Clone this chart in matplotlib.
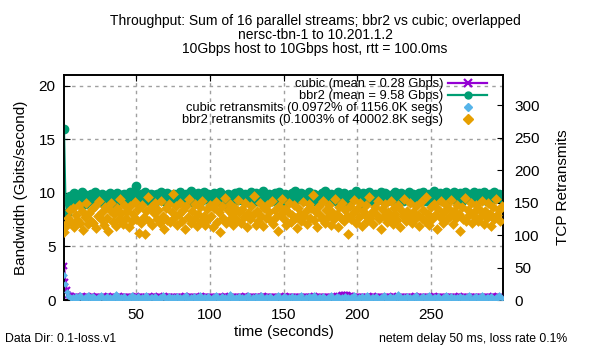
import matplotlib
matplotlib.use("Agg")
import matplotlib.pyplot as plt
from matplotlib.lines import Line2D

plt.rcParams['font.family'] = ['Liberation Sans', 'DejaVu Sans']

# ---------------- data ----------------
time_s = list(range(1, 299))

bbr2_gbps = [
    16.0, 9.3, 8.1, 9.2, 9.7, 8.9, 9.5, 10.0, 9.2, 9.8, 9.3, 9.6, 10.1, 9.4, 9.0, 9.8, 9.6, 9.2, 9.9, 9.5,
    9.6, 10.1, 9.3, 9.8, 9.4, 9.1, 9.9, 9.6, 9.2, 9.8, 9.5, 10.0, 9.6, 9.0, 9.8, 9.4, 10.0, 9.2, 9.7, 9.8,
    9.4, 9.9, 9.6, 9.1, 9.8, 10.1, 9.4, 9.6, 10.0, 10.6, 9.7, 9.2, 9.9, 9.6, 9.4, 10.1, 9.7, 9.2, 9.6, 9.9,
    9.4, 9.8, 9.1, 9.9, 9.6, 9.3, 10.1, 9.7, 9.2, 9.6, 10.0, 9.4, 9.8, 9.5, 9.1, 9.9, 9.7, 9.3, 9.6, 10.1,
    9.6, 9.2, 9.8, 9.9, 9.4, 9.6, 10.2, 9.1, 9.7, 9.5, 9.3, 10.0, 9.6, 9.2, 9.8, 10.1, 9.4, 9.6, 9.9, 9.7,
    9.4, 9.6, 10.0, 9.2, 9.8, 9.5, 10.1, 9.3, 9.7, 9.0, 9.6, 9.9, 9.4, 9.8, 9.5, 9.2, 10.0, 9.6, 9.3, 10.1,
    9.7, 9.3, 9.6, 9.9, 9.2, 9.8, 9.5, 10.1, 9.4, 9.6, 10.0, 9.2, 9.8, 9.3, 9.6, 10.2, 9.7, 9.4, 9.6, 9.9,
    9.5, 9.2, 9.8, 10.0, 9.3, 9.6, 10.1, 9.7, 9.4, 9.6, 9.9, 9.1, 9.8, 9.5, 9.3, 10.0, 9.6, 10.2, 9.4, 9.7,
    9.6, 10.0, 9.3, 9.8, 9.5, 9.2, 10.1, 9.6, 9.8, 9.4, 9.9, 9.6, 9.1, 9.7, 9.4, 10.0, 9.6, 10.2, 9.7, 9.3,
    9.6, 9.9, 9.4, 9.8, 9.2, 9.6, 10.1, 9.4, 9.7, 9.5, 10.0, 9.3, 9.6, 9.0, 9.8, 9.9, 9.4, 9.6, 10.2, 9.7,
    9.4, 9.6, 8.9, 10.0, 9.6, 9.8, 9.3, 10.1, 9.5, 9.2, 9.8, 9.9, 9.4, 9.6, 9.7, 10.1, 9.3, 9.6, 10.0, 9.2,
    9.8, 9.6, 9.3, 9.9, 9.5, 10.1, 9.7, 9.4, 9.6, 10.0, 9.2, 9.8, 9.6, 9.3, 10.1, 9.7, 9.5, 9.9, 9.3, 9.8,
    9.6, 10.0, 9.4, 9.8, 10.1, 9.5, 9.2, 9.8, 9.9, 9.4, 9.6, 10.2, 9.7, 9.3, 9.6, 10.0, 9.6, 9.2, 9.8, 10.1,
    9.6, 9.4, 9.9, 9.7, 9.5, 10.1, 9.3, 9.8, 9.6, 10.0, 9.2, 9.7, 10.1, 9.5, 9.4, 9.9, 9.7, 9.5, 10.1, 9.3,
    9.8, 9.6, 10.0, 9.4, 9.7, 10.1, 9.5, 9.2, 9.8, 9.9, 9.6, 9.4, 10.1, 9.7, 9.5, 9.9, 9.4, 9.8,
]

cubic_gbps = [
    3.20, 1.70, 0.90, 0.50, 0.40, 0.35, 0.30, 0.28, 0.32, 0.25, 0.30, 0.27, 0.33, 0.26, 0.29, 0.31, 0.24, 0.30, 0.28, 0.34,
    0.26, 0.29, 0.31, 0.25, 0.30, 0.27, 0.32, 0.24, 0.29, 0.28, 0.33, 0.26, 0.30, 0.25, 0.31, 0.27, 0.29, 0.34, 0.26, 0.28,
    0.30, 0.25, 0.32, 0.27, 0.29, 0.24, 0.31, 0.28, 0.26, 0.33, 0.29, 0.25, 0.30, 0.27, 0.32, 0.26, 0.28, 0.31, 0.24, 0.29,
    0.27, 0.33, 0.26, 0.30, 0.25, 0.29, 0.31, 0.27, 0.34, 0.26, 0.28, 0.30, 0.25, 0.32, 0.27, 0.29, 0.24, 0.31, 0.28, 0.26,
    0.30, 0.27, 0.33, 0.25, 0.29, 0.31, 0.26, 0.28, 0.32, 0.24, 0.30, 0.27, 0.29, 0.33, 0.26, 0.28, 0.31, 0.25, 0.30, 0.27,
    0.29, 0.32, 0.26, 0.28, 0.24, 0.31, 0.27, 0.30, 0.25, 0.33, 0.28, 0.26, 0.30, 0.27, 0.32, 0.25, 0.29, 0.31, 0.26, 0.28,
    0.31, 0.26, 0.29, 0.33, 0.27, 0.30, 0.24, 0.28, 0.32, 0.26, 0.29, 0.31, 0.25, 0.30, 0.27, 0.34, 0.26, 0.28, 0.30, 0.25,
    0.28, 0.32, 0.26, 0.30, 0.27, 0.29, 0.25, 0.31, 0.28, 0.26, 0.33, 0.27, 0.30, 0.24, 0.29, 0.31, 0.26, 0.28, 0.32, 0.27,
    0.30, 0.25, 0.29, 0.32, 0.26, 0.28, 0.31, 0.27, 0.30, 0.25, 0.33, 0.28, 0.26, 0.30, 0.27, 0.29, 0.24, 0.31, 0.28, 0.26,
    0.29, 0.31, 0.27, 0.30, 0.26, 0.33, 0.28, 0.36, 0.40, 0.44, 0.48, 0.46, 0.50, 0.42, 0.38, 0.33, 0.29, 0.31, 0.27, 0.30,
    0.26, 0.28, 0.32, 0.25, 0.29, 0.31, 0.27, 0.30, 0.26, 0.28, 0.33, 0.25, 0.29, 0.31, 0.27, 0.30, 0.24, 0.28, 0.32, 0.26,
    0.30, 0.27, 0.29, 0.33, 0.25, 0.28, 0.31, 0.26, 0.30, 0.27, 0.32, 0.25, 0.29, 0.28, 0.31, 0.26, 0.30, 0.27, 0.33, 0.25,
    0.28, 0.31, 0.26, 0.30, 0.27, 0.29, 0.32, 0.25, 0.28, 0.30, 0.26, 0.33, 0.27, 0.29, 0.24, 0.31, 0.28, 0.26, 0.30, 0.27,
    0.32, 0.26, 0.29, 0.31, 0.25, 0.28, 0.30, 0.27, 0.33, 0.26, 0.29, 0.31, 0.25, 0.30, 0.27, 0.28, 0.32, 0.26, 0.29, 0.31,
    0.27, 0.30, 0.25, 0.28, 0.32, 0.26, 0.29, 0.31, 0.27, 0.30, 0.25, 0.33, 0.28, 0.26, 0.30, 0.27, 0.29, 0.31,
]

cubic_retrans = [
    38, 25, 12, 6, 4, 3, 5, 2, 6, 1, 4, 7, 3, 0, 5, 2, 8, 3, 4, 1,
    6, 3, 0, 5, 2, 7, 4, 1, 3, 6, 2, 5, 0, 4, 3, 9, 2, 5, 1, 4,
    3, 6, 2, 0, 5, 3, 7, 1, 4, 2, 6, 3, 0, 5, 4, 2, 8, 3, 1, 5,
    4, 2, 6, 3, 0, 5, 2, 7, 4, 1, 3, 6, 2, 5, 0, 4, 3, 6, 2, 5,
    1, 4, 3, 7, 2, 0, 5, 3, 6, 1, 4, 2, 8, 3, 0, 5, 4, 2, 6, 3,
    1, 5, 2, 7, 4, 0, 3, 6, 2, 5, 1, 4, 3, 9, 2, 5, 0, 4, 3, 6,
    2, 5, 1, 4, 3, 7, 2, 0, 5, 3, 6, 1, 4, 2, 8, 3, 0, 5, 4, 2,
    6, 3, 1, 5, 2, 7, 4, 0, 3, 6, 2, 5, 1, 4, 3, 6, 2, 5, 0, 4,
    3, 7, 2, 0, 5, 3, 6, 1, 4, 2, 8, 3, 0, 5, 4, 2, 6, 3, 1, 5,
    2, 7, 4, 0, 3, 6, 2, 5, 1, 4, 3, 6, 2, 5, 0, 4, 3, 7, 2, 0,
    5, 3, 6, 1, 4, 2, 8, 3, 0, 5, 4, 2, 6, 3, 1, 5, 2, 7, 4, 0,
    3, 6, 2, 5, 1, 4, 3, 9, 2, 5, 0, 4, 3, 6, 2, 5, 1, 4, 3, 7,
    2, 0, 5, 3, 6, 1, 4, 2, 8, 3, 0, 5, 4, 2, 6, 3, 1, 5, 2, 7,
    4, 0, 3, 6, 2, 5, 1, 4, 3, 6, 2, 5, 0, 4, 3, 7, 2, 0, 5, 3,
    6, 1, 4, 2, 8, 3, 0, 5, 4, 2, 6, 3, 1, 5, 2, 7, 4, 3,
]

bbr2_retrans = [
    104, 112, 118, 126, 138, 120, 142, 113, 131, 123, 146, 119, 137, 108, 128, 149, 117, 134, 122, 140,
    118, 145, 111, 130, 152, 124, 136, 115, 143, 126, 107, 138, 149, 120, 132, 114, 141, 125, 156, 134,
    117, 147, 127, 137, 112, 144, 121, 133, 151, 124, 140, 103, 119, 146, 128, 101, 137, 158, 122, 143,
    115, 134, 149, 125, 139, 118, 153, 130, 110, 141, 123, 148, 120, 136, 163, 127, 144, 116, 132, 150,
    122, 139, 109, 145, 128, 155, 119, 137, 125, 148, 114, 133, 143, 121, 152, 130, 116, 140, 124, 147,
    129, 112, 141, 151, 120, 135, 104, 144, 127, 157, 118, 138, 123, 148, 132, 115, 142, 125, 154, 136,
    119, 140, 128, 149, 113, 134, 124, 145, 131, 160, 116, 137, 122, 150, 129, 114, 141, 127, 147, 135,
    123, 152, 117, 138, 128, 107, 144, 132, 155, 124, 140, 115, 136, 149, 120, 131, 146, 126, 111, 141,
    133, 121, 151, 129, 137, 117, 148, 127, 141, 161, 123, 135, 113, 145, 131, 125, 153, 118, 139, 128,
    147, 116, 136, 124, 156, 132, 112, 143, 127, 150, 121, 138, 130, 102, 144, 125, 134, 154, 119, 140,
    128, 149, 114, 137, 131, 146, 122, 158, 127, 135, 117, 143, 132, 152, 124, 109, 140, 130, 148, 120,
    136, 127, 153, 117, 142, 132, 123, 147, 113, 139, 129, 156, 121, 137, 128, 150, 118, 135, 125, 145,
    131, 114, 151, 127, 138, 122, 159, 133, 116, 143, 125, 148, 131, 110, 140, 128, 153, 119, 136, 146,
    124, 142, 129, 154, 117, 137, 127, 147, 133, 106, 143, 125, 157, 121, 139, 131, 150, 118, 135, 128,
    146, 122, 140, 129, 152, 117, 137, 127, 149, 133, 114, 143, 124, 155, 131, 139, 121, 145,
]

legend_labels = [
    "cubic (mean = 0.28 Gbps)",
    "bbr2 (mean = 9.58 Gbps)",
    "cubic retransmits (0.0972% of 1156.0K segs)",
    "bbr2 retransmits (0.1003% of 40002.8K segs)",
]
title_lines = [
    "Throughput: Sum of 16 parallel streams; bbr2 vs cubic; overlapped",
    "nersc-tbn-1 to 10.201.1.2",
    "10Gbps host to 10Gbps host, rtt = 100.0ms",
]
x_ticks = [50, 100, 150, 200, 250]
y_ticks = [0, 5, 10, 15, 20]
y2_ticks = [0, 50, 100, 150, 200, 250, 300]

# ---------------- styling ----------------
C_CUBIC = "#9400d3"
C_BBR2 = "#009e73"
C_CRET = "#56b4e9"
C_BRET = "#e69f00"

W, H = 600, 350
fig = plt.figure(figsize=(W / 100, H / 100), dpi=100)
L, R, T, B = 64, 503, 75, 300
ax = fig.add_axes([L / W, 1 - B / H, (R - L) / W, (B - T) / H])
ax2 = ax.twinx()

ax.plot(time_s, cubic_gbps, color=C_CUBIC, lw=1.5, marker="x", ms=5, mew=1.5, zorder=3)
ax.plot(time_s, bbr2_gbps, color=C_BBR2, lw=1.5, marker="o", ms=6, zorder=4)
ax2.scatter(time_s, cubic_retrans, color=C_CRET, marker="D", s=12, linewidths=0, zorder=3)
ax2.scatter(time_s, bbr2_retrans, color=C_BRET, marker="D", s=30, linewidths=0, zorder=4)

ax.set_xlim(1, 299)
ax.set_ylim(0, 21)
ax2.set_ylim(0, 346.5)

ax.set_xticks(x_ticks)
ax.set_yticks(y_ticks)
ax2.set_yticks(y2_ticks)

ax.grid(True, color="#a0a0a0", linestyle=(0, (2.5, 3)), lw=1)
ax.set_axisbelow(True)
ax.tick_params(axis="both", direction="in", length=4, labelsize=11, pad=6,
               top=True, right=False)
ax2.tick_params(axis="y", direction="in", length=4, labelsize=11, pad=8)
for a in (ax, ax2):
    for s in a.spines.values():
        s.set_linewidth(1.2)

ax.set_ylabel("Bandwidth (Gbits/second)", fontsize=11, labelpad=8)
ax2.set_ylabel("TCP Retransmits", fontsize=11, labelpad=12)
ax.set_xlabel("time (seconds)", fontsize=11, labelpad=2)

handles = [
    Line2D([], [], color=C_CUBIC, lw=1.6, marker="x", ms=6, mew=1.6),
    Line2D([], [], color=C_BBR2, lw=1.6, marker="o", ms=5),
    Line2D([], [], color=C_CRET, lw=0, marker="D", ms=4),
    Line2D([], [], color=C_BRET, lw=0, marker="D", ms=5),
]
leg = ax2.legend(handles, legend_labels, loc="upper right", markerfirst=False,
                 frameon=False, fontsize=9.3, handlelength=3.0, labelspacing=0.0,
                 handletextpad=0.4, borderaxespad=0.0, borderpad=0.0,
                 bbox_to_anchor=(1 - 16 / (R - L), 1 - 3 / (B - T)))
for t in leg.get_texts():
    t.set_ha("right")
leg._legend_box.align = "right"

for i, (line, yy) in enumerate(zip(title_lines, [21, 35, 49])):
    fig.text(315 / W, 1 - yy / H, line, ha="center", va="center", fontsize=10)

fig.text(5 / W, 1 - 339 / H, "Data Dir: 0.1-loss.v1", ha="left", va="center", fontsize=8.8)
fig.text(567 / W, 1 - 339 / H, "netem delay 50 ms, loss rate 0.1%", ha="right", va="center", fontsize=8.8)

fig.savefig("out.png", dpi=100)
